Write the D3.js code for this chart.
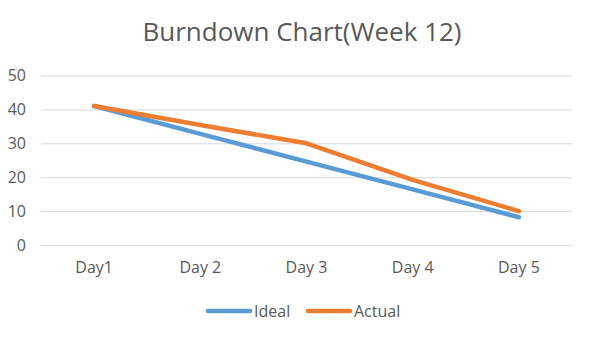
<!DOCTYPE html>
<html><head><meta charset="utf-8">
<script src="https://cdn.jsdelivr.net/npm/d3@7"></script>
<style>body{margin:0;background:#fff;}svg{display:block;}</style>
</head><body>
<script>
const categories = ["Day1", "Day 2", "Day 3", "Day 4", "Day 5"];
const ideal = [41, 32.8, 24.6, 16.4, 8.2];
const actual = [41, 35.4, 30, 19.2, 10];
const yTicks = [0, 10, 20, 30, 40, 50];
const seriesNames = ["Ideal", "Actual"];
const colors = ["#5B9BD5", "#ED7D31"];

const W = 607, H = 350;
const font = "'Open Sans', 'Liberation Sans', sans-serif";
const svg = d3.select("body").append("svg").attr("width", W).attr("height", H);

const x = d3.scaleBand().domain(categories).range([41, 572]);
const y = d3.scaleLinear().domain([0, 50]).range([245, 75.5]);

svg.append("text").attr("x", 302).attr("y", 41).attr("text-anchor", "middle")
  .attr("font-family", font).attr("font-size", 26).attr("fill", "#595959")
  .text("Burndown Chart(Week 12)");

const gy = svg.append("g").attr("transform", "translate(41,0)")
  .call(d3.axisLeft(y).tickValues(yTicks).tickSize(-(572 - 41)).tickPadding(15));
gy.select(".domain").remove();
gy.selectAll(".tick line").attr("stroke", "#D9D9D9").attr("stroke-width", 1);
gy.selectAll(".tick text").attr("font-family", font).attr("font-size", 16).attr("fill", "#595959");

const gx = svg.append("g").attr("transform", "translate(0,245)")
  .call(d3.axisBottom(x).tickSize(0).tickPadding(16.5));
gx.select(".domain").remove();
gx.selectAll(".tick text").attr("font-family", font).attr("font-size", 16).attr("fill", "#595959");

const line = d3.line().x((d, i) => x(categories[i]) + x.bandwidth() / 2).y(d => y(d));
[ideal, actual].forEach((s, i) => {
  svg.append("path").datum(s).attr("d", line).attr("fill", "none")
    .attr("stroke", colors[i]).attr("stroke-width", 4.5)
    .attr("stroke-linecap", "round").attr("stroke-linejoin", "round");
});

const legX = [208, 308];
seriesNames.forEach((n, i) => {
  const g = svg.append("g").attr("transform", `translate(${legX[i]},311)`);
  g.append("line").attr("x1", 0).attr("x2", 42).attr("y1", 0).attr("y2", 0)
    .attr("stroke", colors[i]).attr("stroke-width", 4.5).attr("stroke-linecap", "round");
  g.append("text").attr("x", 46).attr("y", 6).attr("font-family", font)
    .attr("font-size", 16).attr("fill", "#595959").text(n);
});
</script>
</body></html>
